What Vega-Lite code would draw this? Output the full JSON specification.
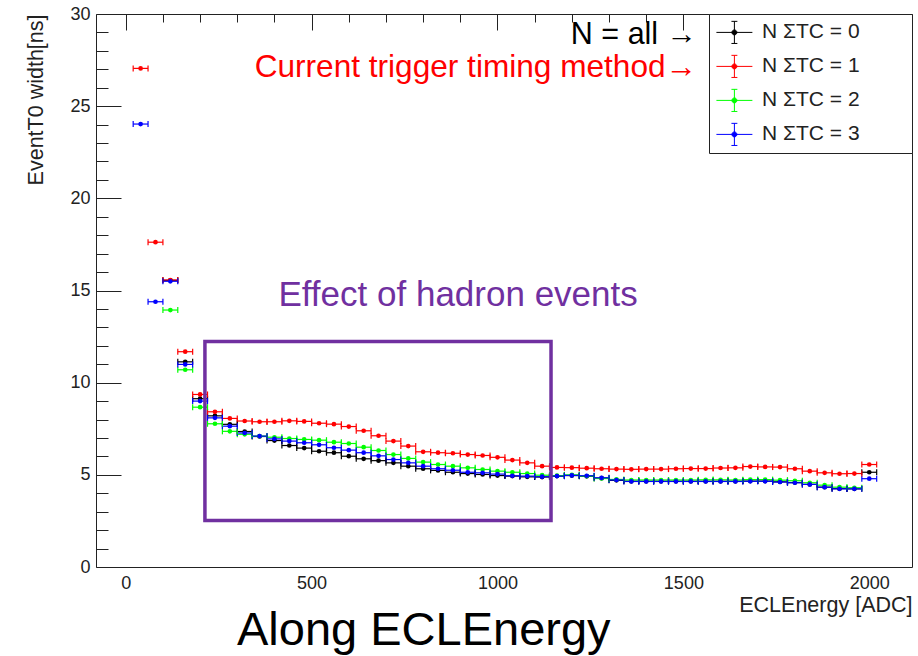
{
  "$schema": "https://vega.github.io/schema/vega-lite/v6.json",
  "width": 816,
  "height": 553,
  "autosize": {"type": "none"},
  "padding": {"left": 96, "top": 14, "right": 6, "bottom": 89},
  "background": "white",
  "config": {
    "font": "Liberation Sans",
    "view": {"stroke": "#222", "strokeWidth": 1},
    "axis": {"domain": false, "ticks": false, "tickSize": 0, "labelFont": "Liberation Sans", "titleFont": "Liberation Sans", "labelColor": "#222", "titleColor": "#222", "titleFontWeight": "normal", "labelOverlap": false, "labelFlush": false, "tickCount": 100, "grid": true, "gridColor": "#222", "gridOpacity": 1, "gridWidth": 1}
  },
  "title": {"text": "Along ECLEnergy", "orient": "bottom", "anchor": "start", "frame": "group", "dx": 141, "offset": -8, "fontSize": 47, "fontWeight": "normal", "color": "#000", "font": "Liberation Sans"},
  "datasets": {
    "pts": [
      {"s": "N ΣTC = 0", "e": 120, "w": 15.55}, {"s": "N ΣTC = 0", "e": 160, "w": 11.13}, {"s": "N ΣTC = 0", "e": 200, "w": 9.13}, {"s": "N ΣTC = 0", "e": 240, "w": 8.2}, {"s": "N ΣTC = 0", "e": 280, "w": 7.74}, {"s": "N ΣTC = 0", "e": 320, "w": 7.35}, {"s": "N ΣTC = 0", "e": 360, "w": 7.08}, {"s": "N ΣTC = 0", "e": 400, "w": 6.86}, {"s": "N ΣTC = 0", "e": 440, "w": 6.59}, {"s": "N ΣTC = 0", "e": 480, "w": 6.45}, {"s": "N ΣTC = 0", "e": 520, "w": 6.28}, {"s": "N ΣTC = 0", "e": 560, "w": 6.2}, {"s": "N ΣTC = 0", "e": 600, "w": 6.01}, {"s": "N ΣTC = 0", "e": 640, "w": 5.87}, {"s": "N ΣTC = 0", "e": 680, "w": 5.77}, {"s": "N ΣTC = 0", "e": 720, "w": 5.65}, {"s": "N ΣTC = 0", "e": 760, "w": 5.47}, {"s": "N ΣTC = 0", "e": 800, "w": 5.33}, {"s": "N ΣTC = 0", "e": 840, "w": 5.24}, {"s": "N ΣTC = 0", "e": 880, "w": 5.14}, {"s": "N ΣTC = 0", "e": 920, "w": 5.07}, {"s": "N ΣTC = 0", "e": 960, "w": 5.02}, {"s": "N ΣTC = 0", "e": 1000, "w": 4.96}, {"s": "N ΣTC = 0", "e": 1040, "w": 4.93}, {"s": "N ΣTC = 0", "e": 1080, "w": 4.89}, {"s": "N ΣTC = 0", "e": 1120, "w": 4.88}, {"s": "N ΣTC = 0", "e": 1160, "w": 4.93}, {"s": "N ΣTC = 0", "e": 1200, "w": 4.96}, {"s": "N ΣTC = 0", "e": 1240, "w": 4.92}, {"s": "N ΣTC = 0", "e": 1280, "w": 4.82}, {"s": "N ΣTC = 0", "e": 1320, "w": 4.7}, {"s": "N ΣTC = 0", "e": 1360, "w": 4.65}, {"s": "N ΣTC = 0", "e": 1400, "w": 4.65}, {"s": "N ΣTC = 0", "e": 1440, "w": 4.65}, {"s": "N ΣTC = 0", "e": 1480, "w": 4.65}, {"s": "N ΣTC = 0", "e": 1520, "w": 4.65}, {"s": "N ΣTC = 0", "e": 1560, "w": 4.65}, {"s": "N ΣTC = 0", "e": 1600, "w": 4.65}, {"s": "N ΣTC = 0", "e": 1640, "w": 4.65}, {"s": "N ΣTC = 0", "e": 1680, "w": 4.66}, {"s": "N ΣTC = 0", "e": 1720, "w": 4.66}, {"s": "N ΣTC = 0", "e": 1760, "w": 4.62}, {"s": "N ΣTC = 0", "e": 1800, "w": 4.58}, {"s": "N ΣTC = 0", "e": 1840, "w": 4.48}, {"s": "N ΣTC = 0", "e": 1880, "w": 4.33}, {"s": "N ΣTC = 0", "e": 1920, "w": 4.25}, {"s": "N ΣTC = 0", "e": 1960, "w": 4.24}, {"s": "N ΣTC = 0", "e": 2000, "w": 5.14},

      {"s": "N ΣTC = 1", "e": 40, "w": 27.05}, {"s": "N ΣTC = 1", "e": 80, "w": 17.62}, {"s": "N ΣTC = 1", "e": 120, "w": 15.57}, {"s": "N ΣTC = 1", "e": 160, "w": 11.68}, {"s": "N ΣTC = 1", "e": 200, "w": 9.36}, {"s": "N ΣTC = 1", "e": 240, "w": 8.42}, {"s": "N ΣTC = 1", "e": 280, "w": 8.06}, {"s": "N ΣTC = 1", "e": 320, "w": 7.92}, {"s": "N ΣTC = 1", "e": 360, "w": 7.88}, {"s": "N ΣTC = 1", "e": 400, "w": 7.88}, {"s": "N ΣTC = 1", "e": 440, "w": 7.93}, {"s": "N ΣTC = 1", "e": 480, "w": 7.9}, {"s": "N ΣTC = 1", "e": 520, "w": 7.8}, {"s": "N ΣTC = 1", "e": 560, "w": 7.75}, {"s": "N ΣTC = 1", "e": 600, "w": 7.62}, {"s": "N ΣTC = 1", "e": 640, "w": 7.39}, {"s": "N ΣTC = 1", "e": 680, "w": 7.12}, {"s": "N ΣTC = 1", "e": 720, "w": 6.83}, {"s": "N ΣTC = 1", "e": 760, "w": 6.56}, {"s": "N ΣTC = 1", "e": 800, "w": 6.25}, {"s": "N ΣTC = 1", "e": 840, "w": 6.2}, {"s": "N ΣTC = 1", "e": 880, "w": 6.17}, {"s": "N ΣTC = 1", "e": 920, "w": 6.1}, {"s": "N ΣTC = 1", "e": 960, "w": 6.05}, {"s": "N ΣTC = 1", "e": 1000, "w": 5.95}, {"s": "N ΣTC = 1", "e": 1040, "w": 5.8}, {"s": "N ΣTC = 1", "e": 1080, "w": 5.65}, {"s": "N ΣTC = 1", "e": 1120, "w": 5.47}, {"s": "N ΣTC = 1", "e": 1160, "w": 5.4}, {"s": "N ΣTC = 1", "e": 1200, "w": 5.39}, {"s": "N ΣTC = 1", "e": 1240, "w": 5.36}, {"s": "N ΣTC = 1", "e": 1280, "w": 5.33}, {"s": "N ΣTC = 1", "e": 1320, "w": 5.31}, {"s": "N ΣTC = 1", "e": 1360, "w": 5.3}, {"s": "N ΣTC = 1", "e": 1400, "w": 5.31}, {"s": "N ΣTC = 1", "e": 1440, "w": 5.31}, {"s": "N ΣTC = 1", "e": 1480, "w": 5.33}, {"s": "N ΣTC = 1", "e": 1520, "w": 5.34}, {"s": "N ΣTC = 1", "e": 1560, "w": 5.34}, {"s": "N ΣTC = 1", "e": 1600, "w": 5.37}, {"s": "N ΣTC = 1", "e": 1640, "w": 5.38}, {"s": "N ΣTC = 1", "e": 1680, "w": 5.45}, {"s": "N ΣTC = 1", "e": 1720, "w": 5.43}, {"s": "N ΣTC = 1", "e": 1760, "w": 5.42}, {"s": "N ΣTC = 1", "e": 1800, "w": 5.33}, {"s": "N ΣTC = 1", "e": 1840, "w": 5.2}, {"s": "N ΣTC = 1", "e": 1880, "w": 5.11}, {"s": "N ΣTC = 1", "e": 1920, "w": 5.06}, {"s": "N ΣTC = 1", "e": 1960, "w": 5.07}, {"s": "N ΣTC = 1", "e": 2000, "w": 5.56},

      {"s": "N ΣTC = 2", "e": 120, "w": 13.94}, {"s": "N ΣTC = 2", "e": 160, "w": 10.7}, {"s": "N ΣTC = 2", "e": 200, "w": 8.67}, {"s": "N ΣTC = 2", "e": 240, "w": 7.77}, {"s": "N ΣTC = 2", "e": 280, "w": 7.36}, {"s": "N ΣTC = 2", "e": 320, "w": 7.2}, {"s": "N ΣTC = 2", "e": 360, "w": 7.1}, {"s": "N ΣTC = 2", "e": 400, "w": 7.04}, {"s": "N ΣTC = 2", "e": 440, "w": 6.97}, {"s": "N ΣTC = 2", "e": 480, "w": 6.92}, {"s": "N ΣTC = 2", "e": 520, "w": 6.88}, {"s": "N ΣTC = 2", "e": 560, "w": 6.77}, {"s": "N ΣTC = 2", "e": 600, "w": 6.7}, {"s": "N ΣTC = 2", "e": 640, "w": 6.5}, {"s": "N ΣTC = 2", "e": 680, "w": 6.32}, {"s": "N ΣTC = 2", "e": 720, "w": 6.1}, {"s": "N ΣTC = 2", "e": 760, "w": 5.89}, {"s": "N ΣTC = 2", "e": 800, "w": 5.69}, {"s": "N ΣTC = 2", "e": 840, "w": 5.56}, {"s": "N ΣTC = 2", "e": 880, "w": 5.47}, {"s": "N ΣTC = 2", "e": 920, "w": 5.38}, {"s": "N ΣTC = 2", "e": 960, "w": 5.29}, {"s": "N ΣTC = 2", "e": 1000, "w": 5.2}, {"s": "N ΣTC = 2", "e": 1040, "w": 5.14}, {"s": "N ΣTC = 2", "e": 1080, "w": 5.07}, {"s": "N ΣTC = 2", "e": 1120, "w": 4.98}, {"s": "N ΣTC = 2", "e": 1160, "w": 4.96}, {"s": "N ΣTC = 2", "e": 1200, "w": 5.0}, {"s": "N ΣTC = 2", "e": 1240, "w": 4.93}, {"s": "N ΣTC = 2", "e": 1280, "w": 4.8}, {"s": "N ΣTC = 2", "e": 1320, "w": 4.75}, {"s": "N ΣTC = 2", "e": 1360, "w": 4.72}, {"s": "N ΣTC = 2", "e": 1400, "w": 4.72}, {"s": "N ΣTC = 2", "e": 1440, "w": 4.72}, {"s": "N ΣTC = 2", "e": 1480, "w": 4.72}, {"s": "N ΣTC = 2", "e": 1520, "w": 4.72}, {"s": "N ΣTC = 2", "e": 1560, "w": 4.73}, {"s": "N ΣTC = 2", "e": 1600, "w": 4.73}, {"s": "N ΣTC = 2", "e": 1640, "w": 4.72}, {"s": "N ΣTC = 2", "e": 1680, "w": 4.74}, {"s": "N ΣTC = 2", "e": 1720, "w": 4.74}, {"s": "N ΣTC = 2", "e": 1760, "w": 4.71}, {"s": "N ΣTC = 2", "e": 1800, "w": 4.68}, {"s": "N ΣTC = 2", "e": 1840, "w": 4.57}, {"s": "N ΣTC = 2", "e": 1880, "w": 4.44}, {"s": "N ΣTC = 2", "e": 1920, "w": 4.33}, {"s": "N ΣTC = 2", "e": 1960, "w": 4.3},

      {"s": "N ΣTC = 3", "e": 40, "w": 24.03}, {"s": "N ΣTC = 3", "e": 80, "w": 14.39}, {"s": "N ΣTC = 3", "e": 120, "w": 15.5}, {"s": "N ΣTC = 3", "e": 160, "w": 10.99}, {"s": "N ΣTC = 3", "e": 200, "w": 9.0}, {"s": "N ΣTC = 3", "e": 240, "w": 8.09}, {"s": "N ΣTC = 3", "e": 280, "w": 7.64}, {"s": "N ΣTC = 3", "e": 320, "w": 7.27}, {"s": "N ΣTC = 3", "e": 360, "w": 7.1}, {"s": "N ΣTC = 3", "e": 400, "w": 6.95}, {"s": "N ΣTC = 3", "e": 440, "w": 6.83}, {"s": "N ΣTC = 3", "e": 480, "w": 6.74}, {"s": "N ΣTC = 3", "e": 520, "w": 6.63}, {"s": "N ΣTC = 3", "e": 560, "w": 6.47}, {"s": "N ΣTC = 3", "e": 600, "w": 6.34}, {"s": "N ΣTC = 3", "e": 640, "w": 6.2}, {"s": "N ΣTC = 3", "e": 680, "w": 6.03}, {"s": "N ΣTC = 3", "e": 720, "w": 5.83}, {"s": "N ΣTC = 3", "e": 760, "w": 5.65}, {"s": "N ΣTC = 3", "e": 800, "w": 5.47}, {"s": "N ΣTC = 3", "e": 840, "w": 5.33}, {"s": "N ΣTC = 3", "e": 880, "w": 5.25}, {"s": "N ΣTC = 3", "e": 920, "w": 5.14}, {"s": "N ΣTC = 3", "e": 960, "w": 5.11}, {"s": "N ΣTC = 3", "e": 1000, "w": 5.04}, {"s": "N ΣTC = 3", "e": 1040, "w": 4.95}, {"s": "N ΣTC = 3", "e": 1080, "w": 4.93}, {"s": "N ΣTC = 3", "e": 1120, "w": 4.9}, {"s": "N ΣTC = 3", "e": 1160, "w": 4.93}, {"s": "N ΣTC = 3", "e": 1200, "w": 4.97}, {"s": "N ΣTC = 3", "e": 1240, "w": 4.95}, {"s": "N ΣTC = 3", "e": 1280, "w": 4.84}, {"s": "N ΣTC = 3", "e": 1320, "w": 4.72}, {"s": "N ΣTC = 3", "e": 1360, "w": 4.64}, {"s": "N ΣTC = 3", "e": 1400, "w": 4.64}, {"s": "N ΣTC = 3", "e": 1440, "w": 4.64}, {"s": "N ΣTC = 3", "e": 1480, "w": 4.64}, {"s": "N ΣTC = 3", "e": 1520, "w": 4.64}, {"s": "N ΣTC = 3", "e": 1560, "w": 4.64}, {"s": "N ΣTC = 3", "e": 1600, "w": 4.64}, {"s": "N ΣTC = 3", "e": 1640, "w": 4.64}, {"s": "N ΣTC = 3", "e": 1680, "w": 4.65}, {"s": "N ΣTC = 3", "e": 1720, "w": 4.65}, {"s": "N ΣTC = 3", "e": 1760, "w": 4.61}, {"s": "N ΣTC = 3", "e": 1800, "w": 4.57}, {"s": "N ΣTC = 3", "e": 1840, "w": 4.48}, {"s": "N ΣTC = 3", "e": 1880, "w": 4.33}, {"s": "N ΣTC = 3", "e": 1920, "w": 4.24}, {"s": "N ΣTC = 3", "e": 1960, "w": 4.24}, {"s": "N ΣTC = 3", "e": 2000, "w": 4.79}
    ],
    "box": [{"e1": 213, "e2": 1144, "w1": 2.52, "w2": 12.24}]
  },
  "layer": [
    {
      "data": {"name": "pts"},
      "mark": {"type": "rule", "strokeWidth": 1.2, "xOffset": -7.43, "x2Offset": 7.43},
      "encoding": {
        "x": {"field": "e", "type": "quantitative", "scale": {"domain": [-80, 2115], "nice": false, "zero": false},
          "axis": {"title": "ECLEnergy [ADC]", "titleAnchor": "end", "titleFontSize": 21.5, "titlePadding": 2, "labelFontSize": 18, "labelPadding": 7, "values": [0,100,200,300,400,500,600,700,800,900,1000,1100,1200,1300,1400,1500,1600,1700,1800,1900,2000,2100], "format": "d", "labelExpr": "datum.value % 500 === 0 ? datum.label : ''",
            "gridDash": {"condition": {"test": "datum.value % 500 === 0", "value": [16, 3000]}, "value": [8, 3000]}}},
        "x2": {"field": "e"},
        "y": {"field": "w", "type": "quantitative", "scale": {"domain": [0, 30], "nice": false, "zero": true},
          "axis": {"title": "EventT0 width[ns]", "titleAnchor": "end", "titleFontSize": 21.5, "titlePadding": 22, "labelFontSize": 18, "labelPadding": 6, "format": "d", "values": [0,1,2,3,4,5,6,7,8,9,10,11,12,13,14,15,16,17,18,19,20,21,22,23,24,25,26,27,28,29,30], "labelExpr": "datum.value % 5 === 0 ? datum.label : ''",
            "gridDash": {"condition": {"test": "datum.value % 5 === 0", "value": [25, 3000]}, "value": [12, 3000]}}},
        "color": {"field": "s", "type": "nominal",
          "scale": {"domain": ["N ΣTC = 0", "N ΣTC = 1", "N ΣTC = 2", "N ΣTC = 3"], "range": ["#000000", "#ff0000", "#00ff00", "#0000ff"]},
          "legend": {"orient": "top-right", "offset": 0, "title": null, "strokeColor": "#222", "fillColor": "white", "padding": 1.4,
            "symbolType": "M-1.09,0H1.09M0,-0.67V0.67M-0.18,-0.67H0.18M-0.18,0.67H0.18M0.15,0A0.15,0.15,0,1,1,-0.15,0A0.15,0.15,0,1,1,0.15,0ZM10.5,0ZM0,-0.87ZM0,0.87Z",
            "symbolSize": 1089, "symbolStrokeWidth": 1, "symbolOffset": 7, "labelOffset": 10.6, "rowPadding": 0,
            "labelFont": "Liberation Sans", "labelFontSize": 21, "labelColor": "#222",
            "encode": {"symbols": {"update": {"stroke": {"scale": "color", "field": "value"}, "fill": {"scale": "color", "field": "value"}, "opacity": {"value": 1}}}}}}
      }
    },
    {
      "data": {"name": "pts"},
      "mark": {"type": "rule", "strokeWidth": 1.2, "xOffset": -7.43, "yOffset": -3, "y2Offset": 3},
      "encoding": {
        "x": {"field": "e", "type": "quantitative"},
        "y": {"field": "w", "type": "quantitative"},
        "y2": {"field": "w"},
        "color": {"field": "s", "type": "nominal"}
      }
    },
    {
      "data": {"name": "pts"},
      "mark": {"type": "rule", "strokeWidth": 1.2, "xOffset": 7.43, "yOffset": -3, "y2Offset": 3},
      "encoding": {
        "x": {"field": "e", "type": "quantitative"},
        "y": {"field": "w", "type": "quantitative"},
        "y2": {"field": "w"},
        "color": {"field": "s", "type": "nominal"}
      }
    },
    {
      "data": {"name": "pts"},
      "mark": {"type": "point", "filled": true, "shape": "circle", "size": 22, "opacity": 1},
      "encoding": {
        "x": {"field": "e", "type": "quantitative"},
        "y": {"field": "w", "type": "quantitative"},
        "color": {"field": "s", "type": "nominal"}
      }
    },
    {
      "data": {"values": [{"note": "N = all →", "e": 1537, "w": 28.84}]},
      "mark": {"type": "text", "align": "right", "baseline": "middle", "fontSize": 30.5, "font": "Liberation Sans", "color": "#000000"},
      "encoding": {"x": {"field": "e", "type": "quantitative"}, "y": {"field": "w", "type": "quantitative"}, "text": {"field": "note"}}
    },
    {
      "data": {"values": [{"note": "Current trigger timing method→", "e": 1537, "w": 27.05}]},
      "mark": {"type": "text", "align": "right", "baseline": "middle", "fontSize": 31.6, "font": "Liberation Sans", "color": "#ff0000"},
      "encoding": {"x": {"field": "e", "type": "quantitative"}, "y": {"field": "w", "type": "quantitative"}, "text": {"field": "note"}}
    },
    {
      "data": {"values": [{"note": "Effect of hadron events", "e": 894, "w": 14.73}]},
      "mark": {"type": "text", "align": "center", "baseline": "middle", "fontSize": 35, "font": "Liberation Sans", "color": "#7030A0"},
      "encoding": {"x": {"field": "e", "type": "quantitative"}, "y": {"field": "w", "type": "quantitative"}, "text": {"field": "note"}}
    },
    {
      "data": {"name": "box"},
      "mark": {"type": "rect", "fill": "transparent", "stroke": "#7030A0", "strokeWidth": 3.5},
      "encoding": {"x": {"field": "e1", "type": "quantitative"}, "x2": {"field": "e2"}, "y": {"field": "w1", "type": "quantitative"}, "y2": {"field": "w2"}}
    }
  ]
}
